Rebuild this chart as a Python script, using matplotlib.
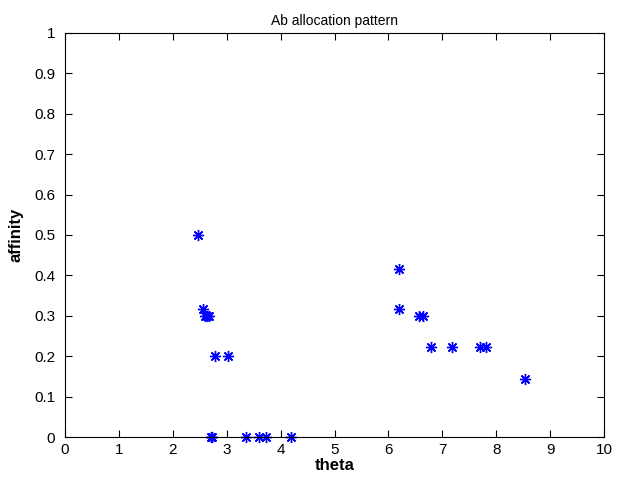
import matplotlib
matplotlib.use("Agg")
import matplotlib.pyplot as plt

plt.rcParams['font.family'] = ['Liberation Sans', 'DejaVu Sans']

# theta / affinity of each Ab
theta = [2.47, 2.56, 2.60, 2.63, 2.67, 2.78, 3.02,
         2.70, 2.73, 3.36, 3.59, 3.73, 4.19,
         6.19, 6.20, 6.57, 6.64, 6.78, 7.18, 7.70, 7.81, 8.53]
affinity = [0.5, 0.317, 0.3, 0.3, 0.3, 0.2, 0.2,
            0.0, 0.0, 0.0, 0.0, 0.0, 0.0,
            0.417, 0.317, 0.3, 0.3, 0.222, 0.222, 0.222, 0.222, 0.143]

xticks = list(range(0, 11))
yticks = [i / 10 for i in range(0, 11)]
yticklabels = ["0", "0.1", "0.2", "0.3", "0.4", "0.5", "0.6", "0.7", "0.8", "0.9", "1"]

fig = plt.figure(figsize=(6.19, 4.83), dpi=100)
ax = fig.add_axes([0.105, 0.095, 0.871, 0.837])

# matlab style asterisk: 8 spokes
ax.plot(theta, affinity, linestyle='none', marker=(8, 2, 0), color='blue',
        markersize=8, markeredgewidth=1.0, clip_on=False)

ax.set_xlim(0, 10)
ax.set_ylim(0, 1)
ax.set_xticks(xticks)
ax.set_yticks(yticks)
ax.set_yticklabels(yticklabels)
ax.tick_params(direction='in', top=True, right=True, labelsize=11, length=5)
ax.tick_params(axis='y', pad=7)
ax.tick_params(axis='x', pad=4)

ax.set_title("Ab allocation pattern", fontsize=10)
ax.set_xlabel("theta", fontsize=12, fontweight='bold', labelpad=1)
ax.set_ylabel("affinity", fontsize=12, fontweight='bold', labelpad=8)

fig.savefig("out.png", dpi=100)
